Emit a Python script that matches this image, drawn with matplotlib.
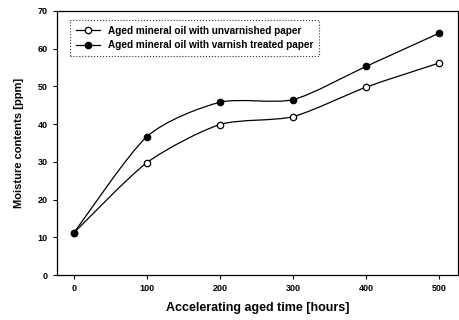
import numpy as np
import matplotlib
matplotlib.use("Agg")
import matplotlib.pyplot as plt
from matplotlib.path import Path
from matplotlib.patches import PathPatch
from matplotlib.lines import Line2D

hours = [0, 100, 200, 300, 400, 500]
unvarnished = [11.2, 29.8, 39.9, 42.0, 49.8, 56.2]
varnished = [11.2, 36.7, 45.8, 46.5, 55.3, 64.1]
labels = ["Aged mineral oil with unvarnished paper",
          "Aged mineral oil with varnish treated paper"]

plt.rcParams['font.family'] = ['Liberation Sans', 'DejaVu Sans']
plt.rcParams['font.weight'] = 'bold'

fig = plt.figure(figsize=(4.6, 3.2), dpi=100)
ax = fig.add_axes([0.124, 0.14, 0.872, 0.826])


def smooth_path(x, y, k=8.0):
    x = np.asarray(x, float)
    y = np.asarray(y, float)
    verts = [(x[0], y[0])]
    codes = [Path.MOVETO]
    n = len(x)
    for i in range(n - 1):
        p0 = np.array([x[max(i - 1, 0)], y[max(i - 1, 0)]])
        p1 = np.array([x[i], y[i]])
        p2 = np.array([x[i + 1], y[i + 1]])
        p3 = np.array([x[min(i + 2, n - 1)], y[min(i + 2, n - 1)]])
        c1 = p1 + (p2 - p0) / k
        c2 = p2 - (p3 - p1) / k
        verts += [tuple(c1), tuple(c2), tuple(p2)]
        codes += [Path.CURVE4] * 3
    return Path(verts, codes)


for ys, face in [(unvarnished, 'white'), (varnished, 'black')]:
    ax.add_patch(PathPatch(smooth_path(hours, ys), facecolor='none',
                           edgecolor='black', lw=0.9, zorder=2))
    ax.plot(hours, ys, linestyle='none', marker='o', ms=4.6,
            mfc=face, mec='black', mew=0.9, zorder=3)

handles = [Line2D([], [], color='black', lw=0.9, marker='o', ms=4.6,
                  mfc='white', mec='black', mew=0.9),
           Line2D([], [], color='black', lw=0.9, marker='o', ms=4.6,
                  mfc='black', mec='black', mew=0.9)]
leg = ax.legend(handles, labels, loc='upper left', bbox_to_anchor=(0.02, 0.985),
                fontsize=7.2, frameon=True, fancybox=False, handlelength=2.4,
                borderpad=0.6, labelspacing=0.45, handletextpad=0.8)
leg.get_frame().set_edgecolor('black')
leg.get_frame().set_linestyle(':')
leg.get_frame().set_linewidth(0.8)

ax.set_xlim(-23, 526)
ax.set_ylim(0, 70)
ax.set_xticks(hours)
ax.set_yticks(range(0, 71, 10))
ax.tick_params(axis='both', direction='out', length=3, width=0.8,
               labelsize=6.5, top=False, right=False)
for lab in ax.get_xticklabels() + ax.get_yticklabels():
    lab.set_fontweight('bold')
for s in ax.spines.values():
    s.set_linewidth(0.9)

ax.set_xlabel("Accelerating aged time [hours]", fontsize=9, fontweight='bold', labelpad=6)
ax.set_ylabel("Moisture contents [ppm]", fontsize=8, fontweight='bold', labelpad=10)

fig.savefig("out.png", dpi=100)
